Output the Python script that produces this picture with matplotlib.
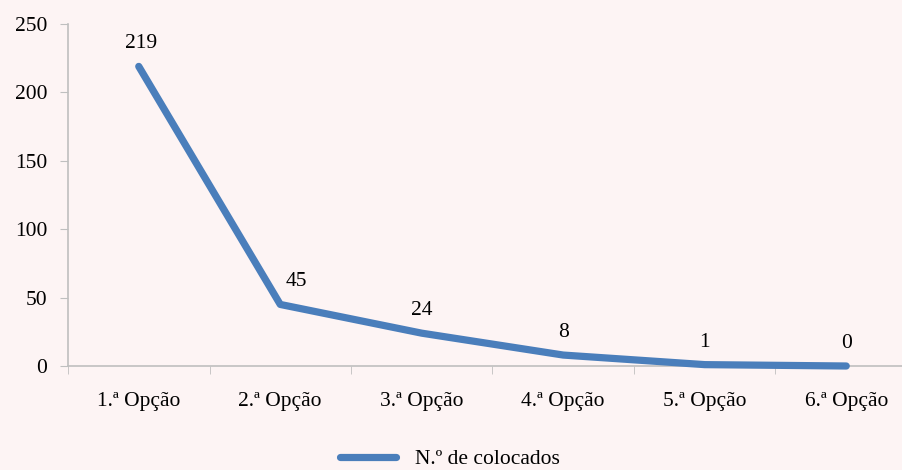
import matplotlib
matplotlib.use("Agg")
import matplotlib.pyplot as plt
from matplotlib.lines import Line2D

categories = ["1.ª Opção", "2.ª Opção", "3.ª Opção", "4.ª Opção", "5.ª Opção", "6.ª Opção"]
values = [219, 45, 24, 8, 1, 0]
labels = ["219", "45", "24", "8", "1", "0"]
series_name = "N.º de colocados"
yticks = [0, 50, 100, 150, 200, 250]

bg = "#FDF4F4"
line_color = "#4A7EBB"
grid_color = "#BFBFBF"
fs = 15.5

plt.rcParams["font.family"] = ["Liberation Serif", "DejaVu Serif"]

fig = plt.figure(figsize=(9.03, 4.70), dpi=100, facecolor=bg)
# axes spans from x=68px to ~917px (right edge cropped), y from 24px to 366px
ax = fig.add_axes([68 / 903, 1 - 366 / 470, 849 / 903, 342 / 470], facecolor=bg)

x = list(range(len(categories)))
ax.plot(x, values, color=line_color, lw=5.2, solid_capstyle="round",
        solid_joinstyle="round", zorder=3, clip_on=False)

dx = [2, 16, 0, 0, 0, 0]
for xi, v, lab, d in zip(x, values, labels, dx):
    ax.annotate(lab, (xi, v), xytext=(d, 13), textcoords="offset pixels",
                ha="center", va="bottom", fontsize=fs, color="black")

ax.set_xlim(-0.5, len(categories) - 0.5)
ax.set_ylim(0, 250)
ax.set_yticks(yticks)
ax.set_yticklabels([str(t) for t in yticks], fontsize=fs)
ax.set_xticks(x)
ax.set_xticklabels(categories, fontsize=fs)
ax.set_xticks([i - 0.5 for i in range(len(categories) + 1)], minor=True)

ax.tick_params(axis="x", which="major", length=0, pad=19)
ax.tick_params(axis="x", which="minor", length=6, color=grid_color, direction="out")
ax.tick_params(axis="y", which="major", length=6, color=grid_color, pad=9)

for s in ["top", "right"]:
    ax.spines[s].set_visible(False)
for s in ["left", "bottom"]:
    ax.spines[s].set_color(grid_color)
    ax.spines[s].set_linewidth(1.2)

handle = Line2D([0], [0], color=line_color, lw=5.2, solid_capstyle="round")
fig.legend([handle], [series_name], loc="center", bbox_to_anchor=(450 / 903, 1 - 459 / 470),
           frameon=False, fontsize=fs, handlelength=2.6, handletextpad=0.9)

fig.savefig("out.png", dpi=100, facecolor=bg)
